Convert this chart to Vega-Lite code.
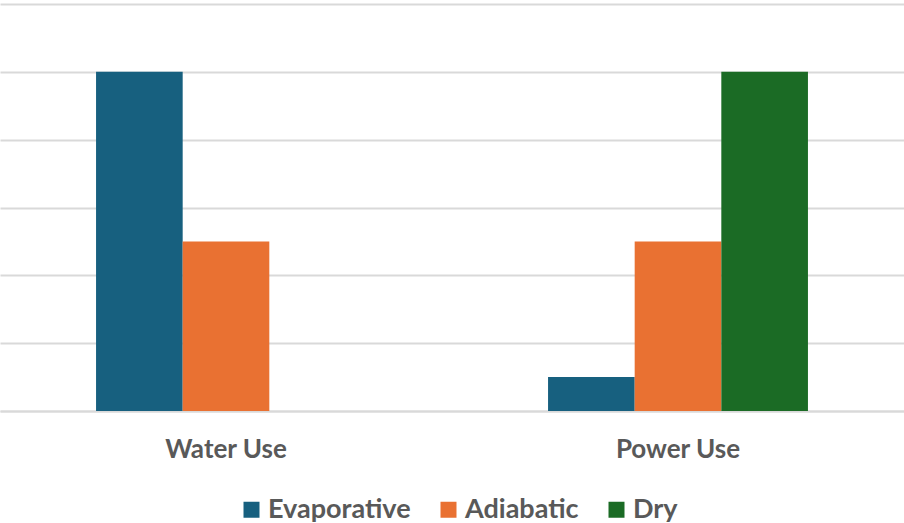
{
  "$schema": "https://vega.github.io/schema/vega-lite/v6.json",
  "width": 904,
  "height": 407,
  "autosize": "none",
  "padding": {"top": 4, "left": 0, "right": 0, "bottom": 112},
  "background": "white",
  "data": {
    "values": [
      {"category": "Water Use", "type": "Evaporative", "value": 5},
      {"category": "Water Use", "type": "Adiabatic", "value": 2.5},
      {"category": "Water Use", "type": "Dry", "value": 0},
      {"category": "Power Use", "type": "Evaporative", "value": 0.5},
      {"category": "Power Use", "type": "Adiabatic", "value": 2.5},
      {"category": "Power Use", "type": "Dry", "value": 5}
    ]
  },
  "mark": {"type": "bar"},
  "encoding": {
    "x": {
      "field": "category",
      "type": "nominal",
      "sort": ["Water Use", "Power Use"],
      "scale": {"paddingInner": 0.425, "paddingOuter": 0.2125},
      "axis": {
        "title": null,
        "labelAngle": 0,
        "ticks": false,
        "domain": true,
        "domainColor": "#d9d9d9",
        "domainWidth": 2,
        "labelFont": "Lato",
        "labelFontWeight": "bold",
        "labelFontSize": 26,
        "labelColor": "#595959",
        "labelPadding": 25,
        "grid": false
      }
    },
    "xOffset": {"field": "type", "type": "nominal", "sort": ["Evaporative", "Adiabatic", "Dry"], "scale": {"paddingInner": 0, "paddingOuter": 0}},
    "y": {
      "field": "value",
      "type": "quantitative",
      "scale": {"domain": [0, 6], "nice": false},
      "axis": {
        "title": null,
        "labels": false,
        "ticks": false,
        "domain": false,
        "values": [0, 1, 2, 3, 4, 5, 6],
        "labelOverlap": false,
        "gridColor": "#d9d9d9",
        "gridWidth": 2
      }
    },
    "color": {
      "field": "type",
      "type": "nominal",
      "sort": ["Evaporative", "Adiabatic", "Dry"],
      "scale": {"domain": ["Evaporative", "Adiabatic", "Dry"], "range": ["#17607F", "#E97132", "#1B6B25"]},
      "legend": {
        "title": null,
        "orient": "none",
        "direction": "horizontal",
        "legendX": 238,
        "legendY": 492,
        "symbolType": "square",
        "symbolSize": 256,
        "symbolStrokeWidth": 0,
        "labelFont": "Lato",
        "labelFontWeight": "bold",
        "labelFontSize": 27,
        "labelColor": "#595959",
        "columnPadding": 24,
        "labelOffset": 3
      }
    }
  },
  "config": {"view": {"stroke": null}}
}
